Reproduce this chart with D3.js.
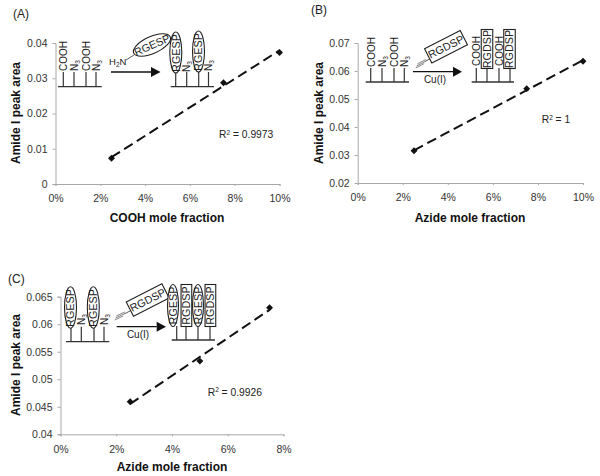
<!DOCTYPE html>
<html><head><meta charset="utf-8">
<script src="https://cdn.jsdelivr.net/npm/d3@7"></script>
<style>
html,body{margin:0;padding:0;background:#fff}
svg{display:block}
text{font-family:"Liberation Sans",Arial,sans-serif;fill:#222}
.tick text{font-size:10.5px;fill:#333}
.title{font-size:12px;font-weight:bold;fill:#111}
.sch{fill:#222}
</style></head><body>
<svg id="c" width="600" height="476"></svg>
<script>
const panelNames = ["(A)", "(B)", "(C)"];
const xTitles = ["COOH mole fraction", "Azide mole fraction", "Azide mole fraction"];
const yTitle = "Amide I peak area";
const r2Labels = ["0.9973", "1", "0.9926"];
const xA = [2.5, 7.5, 10], yA = [0.0073, 0.0287, 0.0373];
const xB = [2.5, 7.5, 10], yB = [0.0315, 0.0537, 0.0635];
const xC = [2.5, 5, 7.5], yC = [0.0459, 0.0533, 0.063];
const xTicksAB = [0, 2, 4, 6, 8, 10], xTicksC = [0, 2, 4, 6, 8];
const yTicksA = [0, 0.01, 0.02, 0.03, 0.04];
const yTicksB = [0.02, 0.03, 0.04, 0.05, 0.06, 0.07];
const yTicksC = [0.04, 0.045, 0.05, 0.055, 0.06, 0.065];

const svg = d3.select("#c");
const AXIS = "#a8a8a8";

function panel(o) {
  const g = svg.append("g");
  const x = d3.scaleLinear().domain(o.xd).range(o.xr);
  const y = d3.scaleLinear().domain(o.yd).range(o.yr);
  const ax = g.append("g").attr("transform", `translate(0,${o.yr[0]})`)
    .call(d3.axisBottom(x).tickValues(o.xt).tickFormat(d => d + "%").tickSize(2).tickPadding(9));
  const ay = g.append("g").attr("transform", `translate(${o.xr[0]},0)`)
    .call(d3.axisLeft(y).tickValues(o.yt).tickFormat(d3.format("~g")).tickSize(3).tickPadding(5));
  [ax, ay].forEach(a => { a.selectAll("path,line").attr("stroke", AXIS); a.attr("font-family", null).attr("font-size", null); });
  // least-squares trend line across the data
  const mx = d3.mean(o.xs), my = d3.mean(o.ys);
  const b = d3.sum(o.xs, (v, i) => (v - mx) * (o.ys[i] - my)) / d3.sum(o.xs, v => (v - mx) ** 2);
  const f = v => my + b * (v - mx);
  const ends = d3.extent(o.xs);
  g.append("path").attr("d", d3.line().x(d => x(d)).y(d => y(f(d)))(ends))
    .attr("fill", "none").attr("stroke", "#111").attr("stroke-width", 2).attr("stroke-dasharray", "10,5");
  g.selectAll(".pt").data(o.xs).join("path")
    .attr("d", d3.symbol(d3.symbolSquare, 24))
    .attr("transform", (d, i) => `translate(${x(d)},${y(o.ys[i])}) rotate(45)`)
    .attr("fill", "#111");
  g.append("text").attr("class", "title").attr("text-anchor", "middle")
    .attr("x", o.xtx).attr("y", o.xty).text(o.xTitle);
  g.append("text").attr("class", "title").attr("text-anchor", "middle")
    .attr("transform", `translate(${o.ytx},${o.yty}) rotate(-90)`).text(yTitle);
  g.append("text").attr("x", o.nx).attr("y", o.ny).style("font-size", "12px").text(o.name);
  const r = g.append("text").attr("x", o.rx).attr("y", o.ry).style("font-size", "10.3px");
  r.append("tspan").text("R");
  r.append("tspan").attr("dy", -3.5).style("font-size", "6.5px").text("2");
  r.append("tspan").attr("dy", 3.5).text(" = " + o.r2);
}

panel({name: panelNames[0], nx: 13, ny: 18, xd: [0, 10], xr: [55.5, 279.5], yd: [0, 0.04], yr: [184, 43],
  xs: xA, ys: yA, xt: xTicksAB, yt: yTicksA, xTitle: xTitles[0], xtx: 167, xty: 222, ytx: 20, yty: 113, rx: 219, ry: 138, r2: r2Labels[0]});
panel({name: panelNames[1], nx: 311, ny: 14, xd: [0, 10], xr: [357.7, 583], yd: [0.02, 0.07], yr: [183, 43],
  xs: xB, ys: yB, xt: xTicksAB, yt: yTicksB, xTitle: xTitles[1], xtx: 470, xty: 222, ytx: 323, yty: 113, rx: 541.7, ry: 123, r2: r2Labels[1]});
panel({name: panelNames[2], nx: 8, ny: 283, xd: [0, 8], xr: [60.5, 283.5], yd: [0.04, 0.065], yr: [434.3, 296.7],
  xs: xC, ys: yC, xt: xTicksC, yt: yTicksC, xTitle: xTitles[2], xtx: 172, xty: 471, ytx: 20, yty: 365, rx: 207.7, ry: 395.7, r2: r2Labels[2]});

// ---- reaction schematics ----
const S = svg.append("g").attr("stroke-linecap", "butt");
const ln = (a, b, c, d, w = 1.2, col = "#333") => S.append("line").attr("x1", a).attr("y1", b).attr("x2", c).attr("y2", d).attr("stroke", col).attr("stroke-width", w);
const txt = (x, y, t, rot = 0, size = 10.8) => S.append("text").attr("class", "sch").attr("text-anchor", "middle")
  .attr("transform", `translate(${x},${y}) rotate(${rot})`).style("font-size", size + "px").attr("dy", "0.35em").text(t);
function base(x0, x1, y, top, stems) { ln(x0, y, x1, y, 1.3); stems.forEach(s => ln(s, y, s, top)); }
function vert(x, yb, t) { S.append("text").attr("class", "sch").attr("transform", `translate(${x + 3.5},${yb}) rotate(-90)`).style("font-size", "10px").text(t); }
function n3(x, yb) {
  const t = S.append("text").attr("class", "sch").attr("transform", `translate(${x + 3.5},${yb}) rotate(-90)`).style("font-size", "10px");
  t.append("tspan").text("N");
  t.append("tspan").attr("dy", 2).style("font-size", "6.5px").text("3");
}
function ell(cx, cy, rx, ry, rot, t) {
  S.append("ellipse").attr("transform", `translate(${cx},${cy}) rotate(${rot})`).attr("rx", rx).attr("ry", ry).attr("fill", "#fff").attr("stroke", "#222").attr("stroke-width", 1.1);
  if (t) txt(cx, cy, t, rot);
}
function box(cx, cy, w, h, rot, t) {
  S.append("rect").attr("transform", `translate(${cx},${cy}) rotate(${rot})`).attr("x", -w / 2).attr("y", -h / 2).attr("width", w).attr("height", h).attr("fill", "#fff").attr("stroke", "#222").attr("stroke-width", 1.1);
  if (t) txt(cx, cy, t, rot);
}
function arrow(x0, x1, tip, y) {
  ln(x0, y, x1, y, 1.3, "#111");
  S.append("path").attr("d", `M${x1},${y - 5}L${tip},${y}L${x1},${y + 5}Z`).attr("fill", "#111");
}
function triple(x0, y0, x1, y1, x2, y2) {
  [-2, 0, 2].forEach(d => ln(x0 - d * .4, y0 + d, x1 - d * .4, y1 + d, .6));
  ln(x1, y1, x2, y2, .8);
}

// A
base(58, 101.7, 86.7, 72, [63.3, 74, 86, 96]);
vert(63, 71, "COOH"); n3(74, 71); vert(86, 71, "COOH"); n3(96, 71);
arrow(111, 151, 160.5, 72);
S.append("text").attr("class", "sch").attr("x", 109).attr("y", 65).style("font-size", "9.5px").call(t => {
  t.append("tspan").text("H"); t.append("tspan").attr("dy", 2).style("font-size", "6.5px").text("2"); t.append("tspan").attr("dy", -2).text("N");
});
ln(126, 60, 134, 55, .8);
ell(152, 45, 20, 8.5, -24, "RGESP");
base(170.7, 214, 86.7, 72, [175.7, 186.7, 198.7, 208.5]);
ell(175.8, 52.5, 6, 20.5, 0); txt(175.8, 53, "RGESP", -90);
ell(198.5, 51.5, 6, 20.5, 0); txt(198.5, 52, "RGESP", -90);
n3(186.5, 72); n3(208.5, 71);

// B
base(365.7, 409, 82, 68, [370.7, 382, 394, 404.3]);
vert(371, 67, "COOH"); n3(382, 67); vert(394, 67, "COOH"); n3(404.3, 67);
arrow(413, 453, 462, 71.7);
txt(435, 79.5, "Cu(I)", 0, 10);
triple(416.5, 66, 425, 61.5, 433, 57);
box(446, 46.7, 40, 16, -27, "RGDSP");
base(471.7, 514, 82, 68, [476.3, 487, 499, 510]);
vert(476, 66, "COOH"); vert(499, 66, "COOH");
box(487, 49, 11.5, 39, 0); txt(487, 49, "RGDSP", -90);
box(509.5, 49, 11.5, 39, 0); txt(509.5, 49, "RGDSP", -90);

// C
base(66, 109.3, 341.7, 326.7, [71, 81.3, 94, 104]);
ell(70.5, 307.5, 6, 20.7, 0); txt(70.5, 308, "RGESP", -90);
ell(93.3, 307.5, 6, 20.7, 0); txt(93.3, 308, "RGESP", -90);
n3(81, 325); n3(104, 325);
arrow(116.7, 156.7, 166, 326.7);
txt(138, 334.5, "Cu(I)", 0, 10);
triple(115.5, 318, 124, 314, 132, 310);
box(147.7, 300, 40, 16, -27, "RGDSP");
base(171.7, 215, 340, 326, [176.7, 186, 198, 210]);
ell(173, 305.5, 5.5, 21, 0); txt(173, 305.5, "RGESP", -90);
box(186.4, 305.5, 10.7, 42, 0); txt(186.4, 305.5, "RGDSP", -90);
ell(198, 305.5, 5.5, 21, 0); txt(198, 305.5, "RGESP", -90);
box(210.4, 305.5, 10.7, 42, 0); txt(210.4, 305.5, "RGDSP", -90);
</script>
</body></html>
